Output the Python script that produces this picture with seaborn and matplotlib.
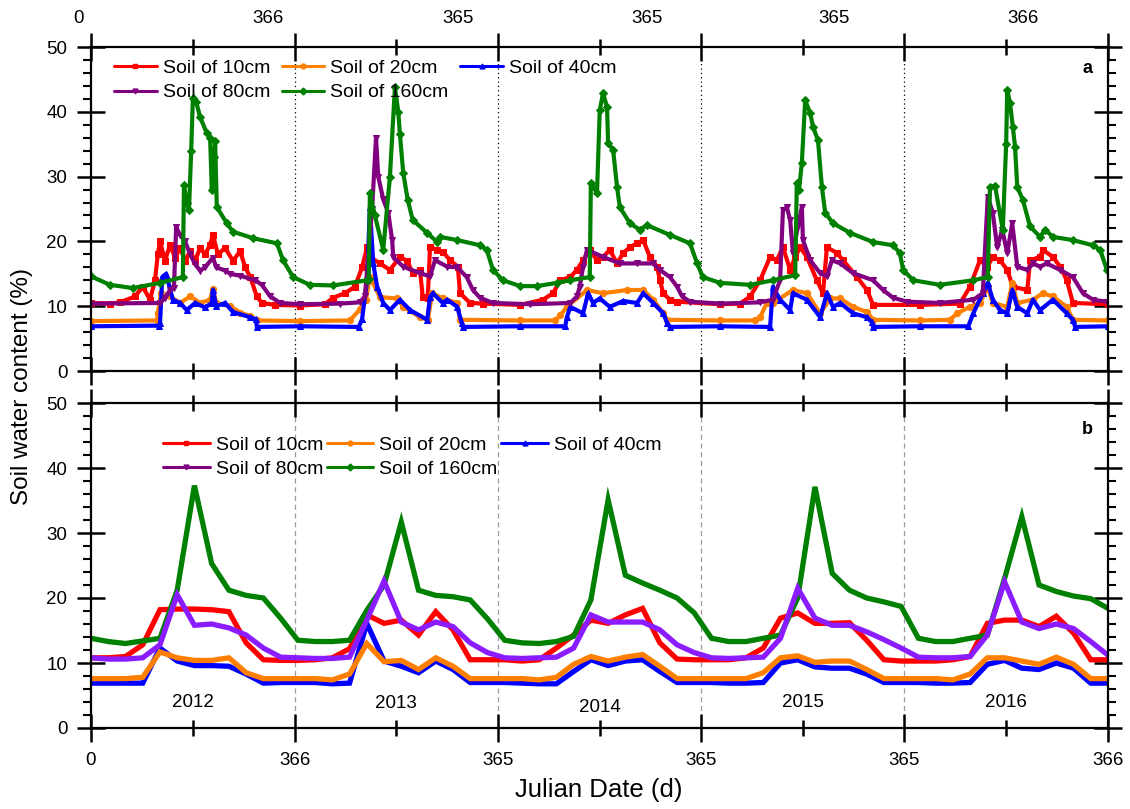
import numpy as np
import pandas as pd
import matplotlib
matplotlib.use("Agg")
import matplotlib.pyplot as plt
from matplotlib.lines import Line2D
import seaborn as sns

# ---------------- panel a: daily soil water content (day of record, %) ----------------
day_a_10 = [0, 34, 52, 79, 93, 106, 115, 120, 124, 133, 142, 151, 160, 169, 178, 187, 196, 205, 214, 219,
            228, 241, 255, 268, 277, 286, 298, 307, 331, 375, 420, 435, 456, 474, 487, 496,
            501, 519, 537, 555, 568, 578, 591, 596, 605, 609, 622, 632, 645, 659, 663, 681, 704, 771, 812,
            830, 843, 861, 873,
            884, 896, 909, 920, 932, 945, 956, 968, 981, 992, 1004, 1017, 1022, 1028, 1040, 1053, 1130, 1166,
            1184, 1202, 1220, 1232, 1243, 1256, 1265, 1274, 1286, 1304, 1315, 1322, 1340, 1351, 1376, 1394,
            1405, 1489, 1561,
            1579, 1597, 1610, 1620, 1633, 1646, 1656, 1682, 1687, 1705, 1710, 1728, 1741, 1753, 1764, 1827]
swc_a_10 = [10.5, 10.4, 10.6, 11.5, 13.0, 11.0, 14.0, 18.0, 20.0, 17.0, 19.5, 17.5, 19.0, 17.0, 18.5, 17.0,
            19.0, 18.0, 19.5, 21.0, 18.0, 19.0, 17.0, 18.5, 16.0, 14.5, 11.5, 10.5, 10.2, 10.1, 10.3, 11.3,
            12.0, 13.0, 16.0, 19.1,
            17.6, 16.6, 15.6, 17.6, 17.0, 15.1, 15.6, 11.4, 11.2, 19.1, 18.7, 18.4, 17.1, 16.1, 12.0, 10.5,
            10.4, 10.2, 11.0, 12.0, 14.0, 14.5, 15.6,
            17.1, 18.7, 17.1, 17.6, 18.7, 16.6, 18.2, 19.1, 19.7, 20.2, 17.6, 16.1, 14.0, 12.0, 11.0, 10.7,
            10.3, 10.4,
            11.5, 14.0, 17.6, 17.1, 19.1, 15.6, 17.6, 19.1, 17.6, 14.0, 12.0, 19.1, 18.2, 17.1, 14.5, 12.5,
            10.2, 10.2, 10.4,
            13.0, 17.1, 16.1, 17.6, 17.1, 15.6, 13.0, 12.5, 17.1, 17.6, 18.7, 17.6, 16.1, 14.0, 10.5, 10.3]

day_a_20 = [0, 119, 120, 126, 142, 160, 178, 196, 214, 219, 225, 250, 268, 286, 298, 375, 465, 483, 494,
            501, 519, 550, 561, 591, 605, 613, 632, 658, 663, 771, 834, 843, 855,
            891, 920, 963, 992, 1010, 1028, 1035, 1130, 1193,
            1202, 1214, 1225, 1261, 1286, 1310, 1328, 1346, 1369, 1394, 1405, 1489, 1543,
            1556, 1579, 1597, 1611, 1620, 1646, 1655, 1664, 1692, 1710, 1728, 1753, 1764, 1827]
swc_a_20 = [7.7, 7.8, 9.0, 12.0, 11.5, 10.5, 11.5, 10.5, 11.0, 12.7, 10.5, 10.0, 9.0, 8.5, 7.8, 7.7, 7.8,
            9.5, 11.0,
            14.5, 11.4, 11.2, 9.9, 8.3, 7.9, 12.0, 11.2, 10.5, 7.9, 7.8, 7.8, 8.6, 9.9,
            12.5, 12.0, 12.5, 12.5, 11.0, 8.9, 7.9, 7.8, 7.8,
            8.3, 10.5, 10.5, 12.5, 12.0, 8.9, 11.2, 11.2, 9.9, 9.1, 7.9, 7.8, 7.9,
            8.9, 9.9, 10.5, 13.0, 10.5, 9.9, 13.6, 10.5, 11.0, 12.0, 11.5, 9.9, 7.9, 7.8]

day_a_40 = [0, 122, 124, 128, 135, 147, 160, 172, 187, 205, 217, 219, 225, 241, 255, 286, 296, 298, 375,
            481,
            487, 496, 501, 507, 514, 525, 537, 555, 573, 604, 609, 614, 632, 640, 658, 666, 668, 771, 852,
            855, 861, 884, 893, 902, 914, 932, 956, 981, 992, 1010, 1028, 1035, 1040, 1130, 1220,
            1225, 1238, 1256, 1261, 1286, 1310, 1322, 1333, 1346, 1369, 1394, 1403, 1405, 1489, 1576,
            1585, 1602, 1611, 1620, 1633, 1646, 1655, 1664, 1682, 1692, 1705, 1728, 1753, 1764, 1768, 1827]
swc_a_40 = [6.9, 7.0, 7.4, 14.5, 15.0, 11.0, 10.5, 9.4, 10.5, 9.8, 10.5, 12.5, 10.0, 10.5, 9.1, 8.3, 8.0,
            6.8, 6.9, 6.8,
            8.0, 14.0, 25.3, 16.6, 13.0, 10.5, 9.4, 11.0, 9.4, 7.9, 11.4, 12.0, 10.5, 11.0, 9.9, 7.4, 6.8,
            6.9, 6.9,
            8.3, 9.9, 8.9, 12.0, 10.5, 11.2, 9.9, 10.8, 10.5, 12.0, 10.5, 8.9, 7.4, 6.8, 6.9, 6.8,
            13.0, 11.0, 9.4, 12.0, 11.0, 8.3, 12.0, 9.9, 10.5, 8.9, 8.3, 7.5, 6.8, 6.9, 6.9,
            8.9, 12.0, 13.6, 11.0, 9.4, 8.9, 12.5, 9.9, 8.9, 11.0, 9.4, 11.0, 8.9, 7.9, 6.8, 6.9]

day_a_80 = [0, 124, 133, 142, 149, 153, 160, 169, 178, 187, 196, 205, 219, 225, 241, 250, 268, 295, 307,
            322, 340, 375, 447, 483, 492, 505, 512, 516,
            525, 534, 541, 543, 561, 591, 609, 618, 640, 658, 675, 686, 699, 722, 789, 861, 873, 878, 884,
            891, 920, 950, 981, 1010, 1022, 1040, 1053, 1062, 1076, 1130, 1202,
            1225, 1238, 1243, 1250, 1256, 1261, 1270, 1277, 1279, 1292, 1310, 1322, 1331, 1346, 1369, 1405,
            1423, 1441, 1466, 1525, 1585, 1602,
            1611, 1620, 1628, 1637, 1646, 1655, 1664, 1682, 1692, 1705, 1717, 1741, 1764, 1782, 1800, 1825]
swc_a_80 = [10.4, 10.5, 11.3, 12.5, 12.8, 22.2, 21.0, 20.0, 18.0, 16.5, 15.5, 16.0, 17.5, 16.0, 15.5, 15.0,
            14.7, 14.0, 13.3, 11.5, 10.5, 10.3, 10.4, 10.6, 11.5, 25.0, 36.0, 30.0,
            26.5, 24.4, 20.2, 17.6, 16.1, 15.1, 14.6, 17.1, 16.1, 16.0, 14.5, 12.5, 11.3, 10.5, 10.3, 10.5,
            11.5, 13.0, 16.1,
            18.7, 17.6, 16.6, 16.6, 16.6, 15.6, 14.5, 13.0, 11.5, 10.7, 10.4, 10.6,
            11.0, 14.0, 24.8, 25.3, 23.3, 18.2, 22.3, 25.3, 20.2, 17.1, 15.1, 14.6, 17.1, 16.6, 15.1, 14.0,
            12.5, 11.3, 10.7, 10.5, 11.0, 12.0,
            26.9, 24.4, 19.1, 21.8, 18.2, 22.8, 16.1, 15.6, 16.6, 16.1, 16.6, 15.6, 14.5, 12.0, 11.0, 10.7]

day_a_160 = [0, 34, 75, 124, 165, 167, 172, 176, 180, 183, 189, 196, 208, 214, 217, 221, 223, 226, 244,
             255, 291, 334, 345, 363, 393, 435, 496,
             499, 501, 510, 525, 537, 546, 552, 555, 561, 569, 578, 604, 622, 627, 658, 699, 711, 722, 740,
             771, 801, 837, 861, 896,
             898, 909, 914, 920, 927, 929, 938, 945, 950, 968, 986, 999, 1040, 1076, 1089, 1099, 1130, 1184,
             1225, 1265,
             1268, 1272, 1277, 1283, 1292, 1297, 1306, 1313, 1319, 1333, 1364, 1405, 1441, 1453, 1459, 1477,
             1525, 1585, 1611,
             1615, 1624, 1638, 1644, 1646, 1651, 1656, 1660, 1664, 1674, 1687, 1705, 1714, 1728, 1764, 1800,
             1813, 1825]
swc_a_160 = [14.6, 13.3, 12.8, 13.6, 14.5, 28.7, 26.0, 24.8, 34.0, 42.1, 41.5, 39.2, 36.7, 36.0, 27.9, 33.0,
             35.5, 25.3, 22.8, 21.5, 20.5, 19.7, 17.1, 14.5, 13.3, 13.2, 14.0,
             14.2, 27.4, 24.0, 18.7, 30.0, 43.8, 40.0, 36.5, 30.5, 26.4, 23.3, 21.3, 19.9, 20.7, 20.2, 19.4,
             18.7, 15.6, 14.0, 13.1, 13.1, 13.6, 14.0, 14.5,
             29.0, 27.5, 40.3, 42.9, 40.7, 35.2, 34.1, 28.4, 25.3, 22.8, 21.8, 22.5, 21.0, 19.7, 16.6, 14.5,
             13.6, 13.3, 14.0, 14.8,
             29.0, 28.0, 32.1, 41.8, 39.8, 37.7, 35.6, 28.4, 24.4, 22.8, 21.3, 19.9, 19.4, 18.2, 15.6, 14.0,
             13.3, 14.0, 14.5,
             28.4, 28.6, 21.8, 35.0, 43.4, 41.3, 37.7, 34.6, 28.4, 26.4, 22.3, 20.7, 21.8, 20.7, 20.2, 19.4,
             18.7, 15.6]

# ---------------- panel b: monthly mean soil water content (%), Jan 2012 - Dec 2016 ----------------
swc_b_10 = [10.8, 10.8, 11.0, 12.8, 18.2, 18.3, 18.3, 18.2, 17.9, 13.1, 10.5, 10.4,
            10.4, 10.5, 10.8, 12.2, 17.4, 16.1, 16.6, 14.3, 17.9, 15.1, 10.5, 10.5,
            10.5, 10.3, 10.5, 12.3, 14.3, 16.6, 16.1, 17.4, 18.4, 13.1, 10.6, 10.5,
            10.5, 10.5, 10.8, 12.3, 16.9, 17.7, 16.1, 16.1, 16.2, 13.5, 10.5, 10.3,
            10.3, 10.3, 10.5, 11.0, 16.1, 16.6, 16.6, 15.6, 17.2, 14.6, 10.5, 10.5]
swc_b_20 = [7.6, 7.6, 7.6, 7.8, 11.7, 10.8, 10.4, 10.4, 10.8, 8.5, 7.6, 7.6,
            7.6, 7.6, 7.4, 8.3, 13.0, 10.2, 10.4, 9.0, 10.8, 9.5, 7.6, 7.6,
            7.6, 7.6, 7.4, 7.8, 9.8, 11.0, 10.3, 10.9, 11.3, 9.5, 7.6, 7.6,
            7.6, 7.6, 7.6, 8.5, 10.8, 11.1, 10.1, 10.3, 10.3, 9.0, 7.6, 7.6,
            7.6, 7.6, 7.4, 8.3, 10.8, 10.8, 10.3, 9.8, 10.9, 9.8, 7.6, 7.6]
swc_b_40 = [6.9, 6.9, 6.9, 6.9, 12.3, 10.3, 9.6, 9.6, 9.5, 8.3, 6.9, 7.0,
            7.0, 7.0, 6.8, 6.9, 16.1, 10.3, 9.5, 8.5, 10.3, 9.0, 7.0, 7.0,
            7.0, 6.9, 6.8, 6.8, 8.7, 10.5, 9.6, 10.3, 10.5, 8.7, 7.0, 7.0,
            7.0, 6.9, 6.9, 7.0, 10.0, 10.5, 9.4, 9.2, 9.2, 8.3, 7.0, 7.0,
            7.0, 6.9, 6.9, 7.0, 9.8, 10.4, 9.2, 9.0, 10.0, 9.2, 6.9, 6.9]
swc_b_80 = [10.8, 10.6, 10.6, 10.8, 12.8, 20.5, 15.8, 16.0, 15.4, 14.3, 12.3, 10.9,
            10.8, 10.7, 10.7, 10.9, 16.6, 22.6, 16.3, 15.1, 16.3, 15.6, 13.1, 11.6,
            10.8, 10.7, 10.8, 10.9, 12.3, 17.4, 16.3, 16.3, 16.3, 15.1, 12.8, 11.6,
            10.8, 10.7, 10.8, 10.9, 13.8, 21.5, 16.9, 15.8, 15.8, 14.8, 13.6, 12.3,
            10.9, 10.8, 10.8, 11.0, 14.3, 22.5, 16.3, 15.3, 16.0, 15.3, 13.3, 11.2]
swc_b_160 = [13.8, 13.3, 13.0, 13.4, 13.8, 21.2, 37.3, 25.3, 21.2, 20.4, 20.0, 16.9,
             13.5, 13.3, 13.3, 13.5, 18.1, 22.0, 31.7, 21.2, 20.4, 20.2, 19.7, 16.8,
             13.5, 13.1, 13.0, 13.3, 14.1, 19.7, 35.1, 23.5, 22.3, 21.2, 20.0, 17.7,
             13.8, 13.3, 13.3, 13.8, 14.3, 20.0, 37.1, 23.8, 21.2, 20.0, 19.4, 18.7,
             13.8, 13.3, 13.3, 13.8, 14.3, 23.0, 32.5, 22.0, 21.0, 20.3, 19.9, 18.4]

years = ["2012", "2013", "2014", "2015", "2016"]
year_lengths = [366, 365, 365, 365, 366]
depth_labels = ["Soil of 10cm", "Soil of 20cm", "Soil of 40cm", "Soil of 80cm", "Soil of 160cm"]

# ---------------- style ----------------
sns.set_style("ticks")
plt.rcParams["font.family"] = ["Liberation Sans", "DejaVu Sans"]
plt.rcParams["axes.linewidth"] = 1.6
for k in ("text.color", "axes.labelcolor", "xtick.color", "ytick.color", "axes.edgecolor"):
    plt.rcParams[k] = "black"

colors = {"10": "#FF0000", "20": "#FF8000", "40": "#0000FF", "80": "#800080", "160": "#008000"}
violet_b = "#8B1CFF"
markers = {"10": "s", "20": "o", "40": "^", "80": "v", "160": "D"}

bounds = np.concatenate([[0], np.cumsum(year_lengths)])
total_days = bounds[-1]
mid_years = (bounds[:-1] + bounds[1:]) / 2.0

fig = plt.figure(figsize=(11.3, 8.09), dpi=100)
ax_a = fig.add_axes([91 / 1130, 1 - 371 / 809, 1017 / 1130, 324 / 809])
ax_b = fig.add_axes([91 / 1130, 1 - 728 / 809, 1017 / 1130, 325 / 809])

# ---- panel a lines (daily) ----
series_a = [("10", day_a_10, swc_a_10), ("20", day_a_20, swc_a_20), ("40", day_a_40, swc_a_40),
            ("80", day_a_80, swc_a_80), ("160", day_a_160, swc_a_160)]
for key, d, v in series_a:
    df = pd.DataFrame({"day": d, "swc": v})
    sns.lineplot(data=df, x="day", y="swc", ax=ax_a, color=colors[key], linewidth=3.0,
                 marker=markers[key], markersize=4.5, markeredgecolor=colors[key],
                 estimator=None, errorbar=None, sort=False, legend=False)

# ---- panel b lines (monthly) ----
month_pos = np.linspace(0, total_days, len(swc_b_10))
series_b = [("40", swc_b_40, colors["40"]), ("20", swc_b_20, colors["20"]), ("10", swc_b_10, colors["10"]),
            ("160", swc_b_160, colors["160"]), ("80", swc_b_80, violet_b)]
for key, v, c in series_b:
    df = pd.DataFrame({"day": month_pos, "swc": v})
    sns.lineplot(data=df, x="day", y="swc", ax=ax_b, color=c, linewidth=3.8,
                 estimator=None, errorbar=None, sort=False, legend=False,
                 solid_joinstyle="miter")

# ---- year separators ----
for b in bounds[1:-1]:
    ax_a.axvline(b, color="black", linestyle=(0, (1, 2.5)), linewidth=0.9, zorder=0)
    ax_b.axvline(b, color="#999999", linestyle=(0, (4, 3)), linewidth=0.9, zorder=0)

# ---- axes formatting ----
for ax in (ax_a, ax_b):
    ax.set_xlim(0, total_days)
    ax.set_ylim(0, 50)
    ax.set_xticks(bounds)
    ax.set_xticks(mid_years, minor=True)
    ax.set_yticks(np.arange(0, 51, 10))
    ax.set_yticks(np.arange(0, 51, 2), minor=True)
    ax.tick_params(axis="x", which="major", direction="inout", length=20, width=1.8,
                   top=True, bottom=True)
    ax.tick_params(axis="x", which="minor", direction="inout", length=11, width=1.8,
                   top=True, bottom=True)
    ax.tick_params(axis="y", which="major", direction="inout", length=20, width=1.8,
                   left=True, right=True, labelsize=13.5, pad=7)
    ax.tick_params(axis="y", which="minor", direction="out", length=6, width=1.5,
                   left=True, right=True)
    ax.set_xlabel("")
    ax.set_ylabel("")
    for s in ax.spines.values():
        s.set_visible(True)
        s.set_linewidth(1.6)
        s.set_color("black")

ax_a.tick_params(axis="x", which="both", labelbottom=False, labeltop=False)
ax_b.tick_params(axis="x", which="both", labelbottom=True, labeltop=False, labelsize=13.5, pad=7)
ax_b.set_xticklabels(["0"] + [str(n) for n in year_lengths])

# top-axis labels of panel a
top_label_days = [-23, 318, 659, 999, 1335, 1674]
for d, t in zip(top_label_days, ["0"] + [str(n) for n in year_lengths]):
    ax_a.text(d, 1.087, t, transform=ax_a.get_xaxis_transform(), ha="center", va="center",
              fontsize=13.5, clip_on=False)

# year names inside panel b
year_label_y = [3.9, 3.7, 3.2, 3.9, 3.9]
for m, yname, yy in zip(mid_years, years, year_label_y):
    ax_b.text(m, yy, yname, ha="center", va="center", fontsize=13.5)

# panel letters
ax_a.text(0.980, 0.935, "a", transform=ax_a.transAxes, ha="center", va="center",
          fontsize=13, fontweight="bold")
ax_b.text(0.980, 0.917, "b", transform=ax_b.transAxes, ha="center", va="center",
          fontsize=13, fontweight="bold")

# legends (column-wise order gives rows: 10/20/40 then 80/160)
order = ["10", "80", "20", "160", "40"]
label_of = dict(zip(["10", "20", "40", "80", "160"], depth_labels))


def handles_for(lw):
    return [Line2D([0], [0], color=colors[k], linewidth=lw, marker=markers[k], markersize=3.5,
                   markeredgecolor=colors[k]) for k in order]


ax_a.legend(handles_for(2.2), [label_of[k] for k in order], ncol=3, loc="upper left",
            bbox_to_anchor=(0.0226, 0.962), frameon=False, fontsize=14, handlelength=2.2,
            handletextpad=0.3, columnspacing=0.6, labelspacing=0.35, borderpad=0, borderaxespad=0)
ax_b.legend(handles_for(2.2), [label_of[k] for k in order], ncol=3, loc="upper left",
            bbox_to_anchor=(0.0708, 0.898), frameon=False, fontsize=14, handlelength=2.4,
            handletextpad=0.3, columnspacing=0.2, labelspacing=0.35, borderpad=0, borderaxespad=0)

fig.text(22 / 1130, 1 - 387 / 809, "Soil water content (%)", rotation=90, ha="center", va="center",
         fontsize=17.5)
fig.text(599 / 1130, 1 - 790 / 809, "Julian Date (d)", ha="center", va="center", fontsize=18.5)

fig.savefig("out.png", dpi=100, facecolor="white")
